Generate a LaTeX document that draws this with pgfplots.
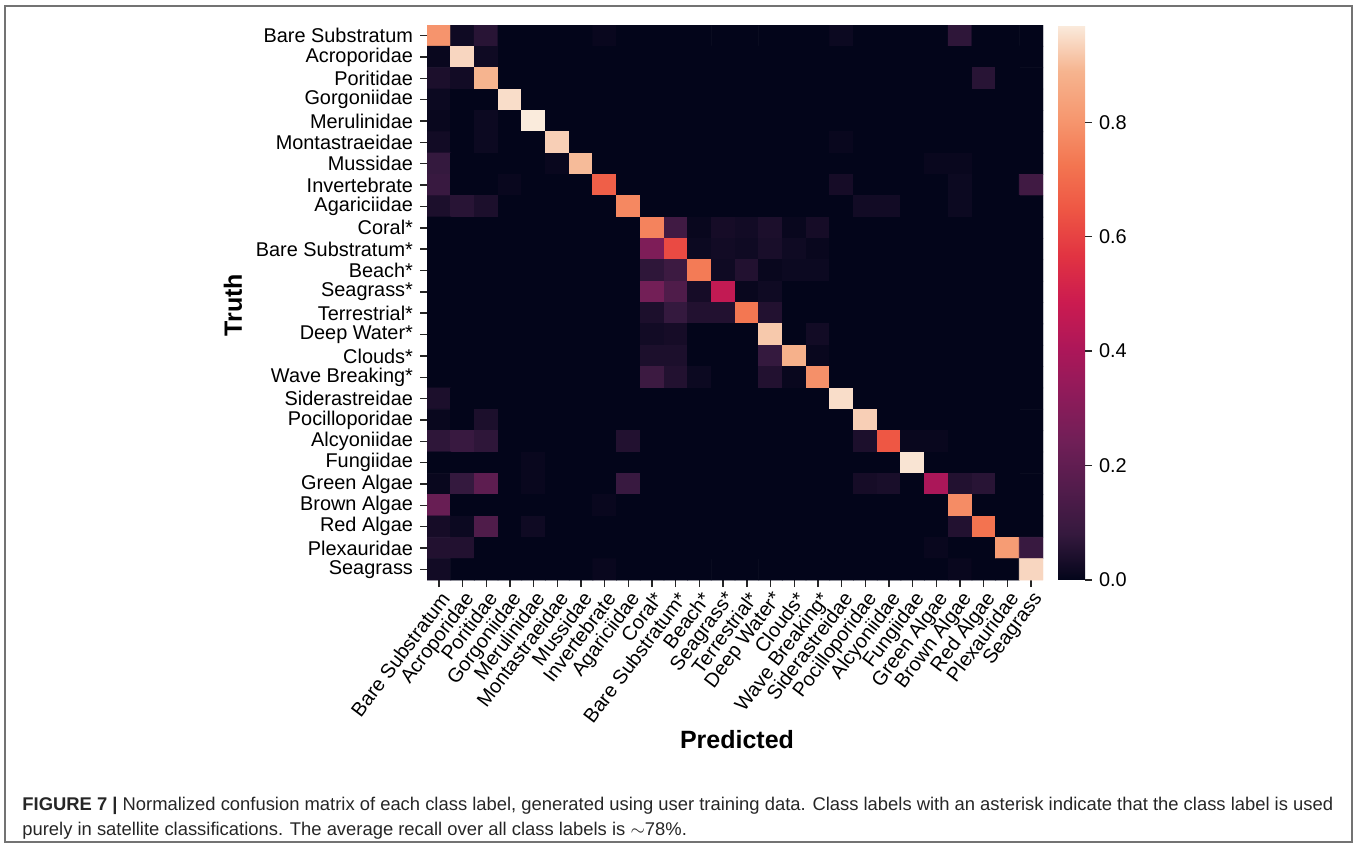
\documentclass[border=0pt]{standalone}
\usepackage{pgfplots}
\pgfplotsset{compat=1.18}
\usepackage{fontspec}
\setmainfont{Liberation Sans}
\newcommand\tickfont{\fontsize{9.95}{11}\selectfont}
\newcommand\axfont{\fontsize{12.5}{14}\selectfont\bfseries}
\newcommand\capfont{\fontsize{9.2}{10}\selectfont}
\begin{document}
\begin{tikzpicture}[x=1pt,y=1pt]
\path[use as bounding box] (0,0) rectangle (677,-421.5);
\draw[line width=0.9pt, black!55] (2.5,-3) rectangle (676,-421);
\begin{axis}[
  at={(213.5pt,-290pt)}, anchor=south west,
  scale only axis, width=308pt, height=277.5pt,
  xmin=-0.5, xmax=25.5, ymin=-0.5, ymax=25.5,
  enlargelimits=false,
  y dir=reverse,
  axis line style={draw=none},
  tick pos=left, tick align=outside,
  major tick length=3.5pt,
  tick style={black!85, line width=0.7pt},
  xtick={0,...,25}, ytick={0,...,25},
  xticklabels={Bare Substratum,Acroporidae,Poritidae,Gorgoniidae,Merulinidae,Montastraeidae,Mussidae,Invertebrate,Agariciidae,Coral*,Bare Substratum*,Beach*,Seagrass*,Terrestrial*,Deep Water*,Clouds*,Wave Breaking*,Siderastreidae,Pocilloporidae,Alcyoniidae,Fungiidae,Green Algae,Brown Algae,Red Algae,Plexauridae,Seagrass},
  yticklabels={Bare Substratum,Acroporidae,Poritidae,Gorgoniidae,Merulinidae,Montastraeidae,Mussidae,Invertebrate,Agariciidae,Coral*,Bare Substratum*,Beach*,Seagrass*,Terrestrial*,Deep Water*,Clouds*,Wave Breaking*,Siderastreidae,Pocilloporidae,Alcyoniidae,Fungiidae,Green Algae,Brown Algae,Red Algae,Plexauridae,Seagrass},
  xticklabel style={rotate=53, anchor=north east, font=\tickfont, inner sep=1pt},
  yticklabel style={font=\tickfont},
  colormap={rocket}{rgb255(0cm)=(3,5,26); rgb255(1cm)=(53,25,62); rgb255(2cm)=(83,28,76); rgb255(3cm)=(112,31,87); rgb255(4cm)=(142,27,90); rgb255(5cm)=(173,23,89); rgb255(6cm)=(203,27,80); rgb255(7cm)=(225,51,66); rgb255(8cm)=(238,86,68); rgb255(9cm)=(243,118,81); rgb255(10cm)=(246,152,112); rgb255(11cm)=(246,180,143); rgb255(12cm)=(250,235,221)},
  point meta min=0, point meta max=0.97,
  colorbar,
  colorbar style={
    at={(parent axis.north east)}, anchor=north west, xshift=-1pt,
    width=13.5pt,
    axis line style={draw=none},
    ytick={0,0.2,0.4,0.6,0.8},
    yticklabels={0.0,0.2,0.4,0.6,0.8},
    yticklabel style={font=\tickfont},
    ytick pos=right, tick align=outside,
    major tick length=3.5pt,
    tick style={black!85, line width=0.7pt},
  },
]
\addplot[matrix plot*, mesh/cols=26, point meta=explicit]
  table[row sep=\\, x expr={mod(\coordindex,26)}, y expr={floor((\coordindex+0.5)/26)}, meta=c] {
c\\
0.80\\0.02\\0.06\\0\\0\\0\\0\\0.01\\0\\0\\0\\0\\0\\0\\0\\0\\0\\0.015\\0\\0\\0\\0\\0.07\\0\\0\\0\\
0.01\\0.94\\0.02\\0\\0\\0\\0\\0\\0\\0\\0\\0\\0\\0\\0\\0\\0\\0\\0\\0\\0\\0\\0\\0\\0\\0\\
0.04\\0.025\\0.89\\0\\0\\0\\0\\0\\0\\0\\0\\0\\0\\0\\0\\0\\0\\0\\0\\0\\0\\0\\0\\0.06\\0\\0\\
0.015\\0\\0\\0.95\\0\\0\\0\\0\\0\\0\\0\\0\\0\\0\\0\\0\\0\\0\\0\\0\\0\\0\\0\\0\\0\\0\\
0.01\\0\\0.015\\0\\0.97\\0\\0\\0\\0\\0\\0\\0\\0\\0\\0\\0\\0\\0\\0\\0\\0\\0\\0\\0\\0\\0\\
0.025\\0\\0.015\\0\\0\\0.93\\0\\0\\0\\0\\0\\0\\0\\0\\0\\0\\0\\0.01\\0\\0\\0\\0\\0\\0\\0\\0\\
0.08\\0\\0\\0\\0\\0.01\\0.90\\0\\0\\0\\0\\0\\0\\0\\0\\0\\0\\0\\0\\0\\0\\0.01\\0.01\\0\\0\\0\\
0.09\\0\\0\\0.01\\0\\0\\0\\0.67\\0\\0\\0\\0\\0\\0\\0\\0\\0\\0.03\\0\\0\\0\\0\\0.015\\0\\0\\0.11\\
0.04\\0.06\\0.04\\0\\0\\0\\0\\0\\0.77\\0\\0\\0\\0\\0\\0\\0\\0\\0\\0.025\\0.025\\0\\0\\0.015\\0\\0\\0\\
0\\0\\0\\0\\0\\0\\0\\0\\0\\0.76\\0.11\\0.01\\0.03\\0.025\\0.04\\0.01\\0.03\\0\\0\\0\\0\\0\\0\\0\\0\\0\\
0\\0\\0\\0\\0\\0\\0\\0\\0\\0.28\\0.62\\0.015\\0.025\\0.02\\0.035\\0.02\\0.01\\0\\0\\0\\0\\0\\0\\0\\0\\0\\
0\\0\\0\\0\\0\\0\\0\\0\\0\\0.07\\0.10\\0.74\\0.02\\0.05\\0.01\\0.015\\0.015\\0\\0\\0\\0\\0\\0\\0\\0\\0\\
0\\0\\0\\0\\0\\0\\0\\0\\0\\0.25\\0.15\\0.03\\0.46\\0.01\\0.02\\0\\0\\0\\0\\0\\0\\0\\0\\0\\0\\0\\
0\\0\\0\\0\\0\\0\\0\\0\\0\\0.04\\0.08\\0.05\\0.05\\0.73\\0.05\\0\\0\\0\\0\\0\\0\\0\\0\\0\\0\\0\\
0\\0\\0\\0\\0\\0\\0\\0\\0\\0.025\\0.03\\0\\0\\0\\0.92\\0\\0.025\\0\\0\\0\\0\\0\\0\\0\\0\\0\\
0\\0\\0\\0\\0\\0\\0\\0\\0\\0.04\\0.04\\0\\0\\0\\0.08\\0.88\\0.01\\0\\0\\0\\0\\0\\0\\0\\0\\0\\
0\\0\\0\\0\\0\\0\\0\\0\\0\\0.10\\0.05\\0.015\\0\\0\\0.05\\0.01\\0.79\\0\\0\\0\\0\\0\\0\\0\\0\\0\\
0.04\\0\\0\\0\\0\\0\\0\\0\\0\\0\\0\\0\\0\\0\\0\\0\\0\\0.95\\0\\0\\0\\0\\0\\0\\0\\0\\
0.01\\0\\0.04\\0\\0\\0\\0\\0\\0\\0\\0\\0\\0\\0\\0\\0\\0\\0\\0.93\\0\\0\\0\\0\\0\\0\\0\\
0.07\\0.09\\0.07\\0\\0\\0\\0\\0\\0.05\\0\\0\\0\\0\\0\\0\\0\\0\\0\\0.04\\0.65\\0.01\\0.01\\0\\0\\0\\0\\
0\\0\\0\\0\\0.01\\0\\0\\0\\0\\0\\0\\0\\0\\0\\0\\0\\0\\0\\0\\0\\0.96\\0\\0\\0\\0\\0\\
0.01\\0.08\\0.19\\0\\0.01\\0\\0\\0\\0.09\\0\\0\\0\\0\\0\\0\\0\\0\\0\\0.03\\0.035\\0\\0.40\\0.05\\0.06\\0\\0\\
0.22\\0\\0\\0\\0\\0\\0\\0.01\\0\\0\\0\\0\\0\\0\\0\\0\\0\\0\\0\\0\\0\\0\\0.78\\0\\0\\0\\
0.03\\0.015\\0.15\\0\\0.02\\0\\0\\0\\0\\0\\0\\0\\0\\0\\0\\0\\0\\0\\0\\0\\0\\0\\0.05\\0.72\\0\\0\\
0.05\\0.05\\0\\0\\0\\0\\0\\0\\0\\0\\0\\0\\0\\0\\0\\0\\0\\0\\0\\0\\0\\0.01\\0\\0\\0.82\\0.09\\
0.025\\0\\0\\0\\0\\0\\0\\0.01\\0\\0\\0\\0\\0\\0\\0\\0\\0\\0\\0\\0\\0\\0\\0.01\\0\\0\\0.94\\
};
\end{axis}
\node[rotate=90, font=\axfont] at (116.5,-152.5) {Truth};
\node[font=\axfont] at (368.5,-370) {Predicted};
\node[anchor=base west, font=\capfont, inner sep=0, black!85] at (11,-405) {\textbf{FIGURE 7 |} Normalized confusion matrix of each class label, generated using user training data. Class labels with an asterisk indicate that the class label is used};
\node[anchor=base west, font=\capfont, inner sep=0, black!85] at (11,-417.5) {purely in satellite classifications. The average recall over all class labels is $\sim$78\%.};
\end{tikzpicture}
\end{document}
